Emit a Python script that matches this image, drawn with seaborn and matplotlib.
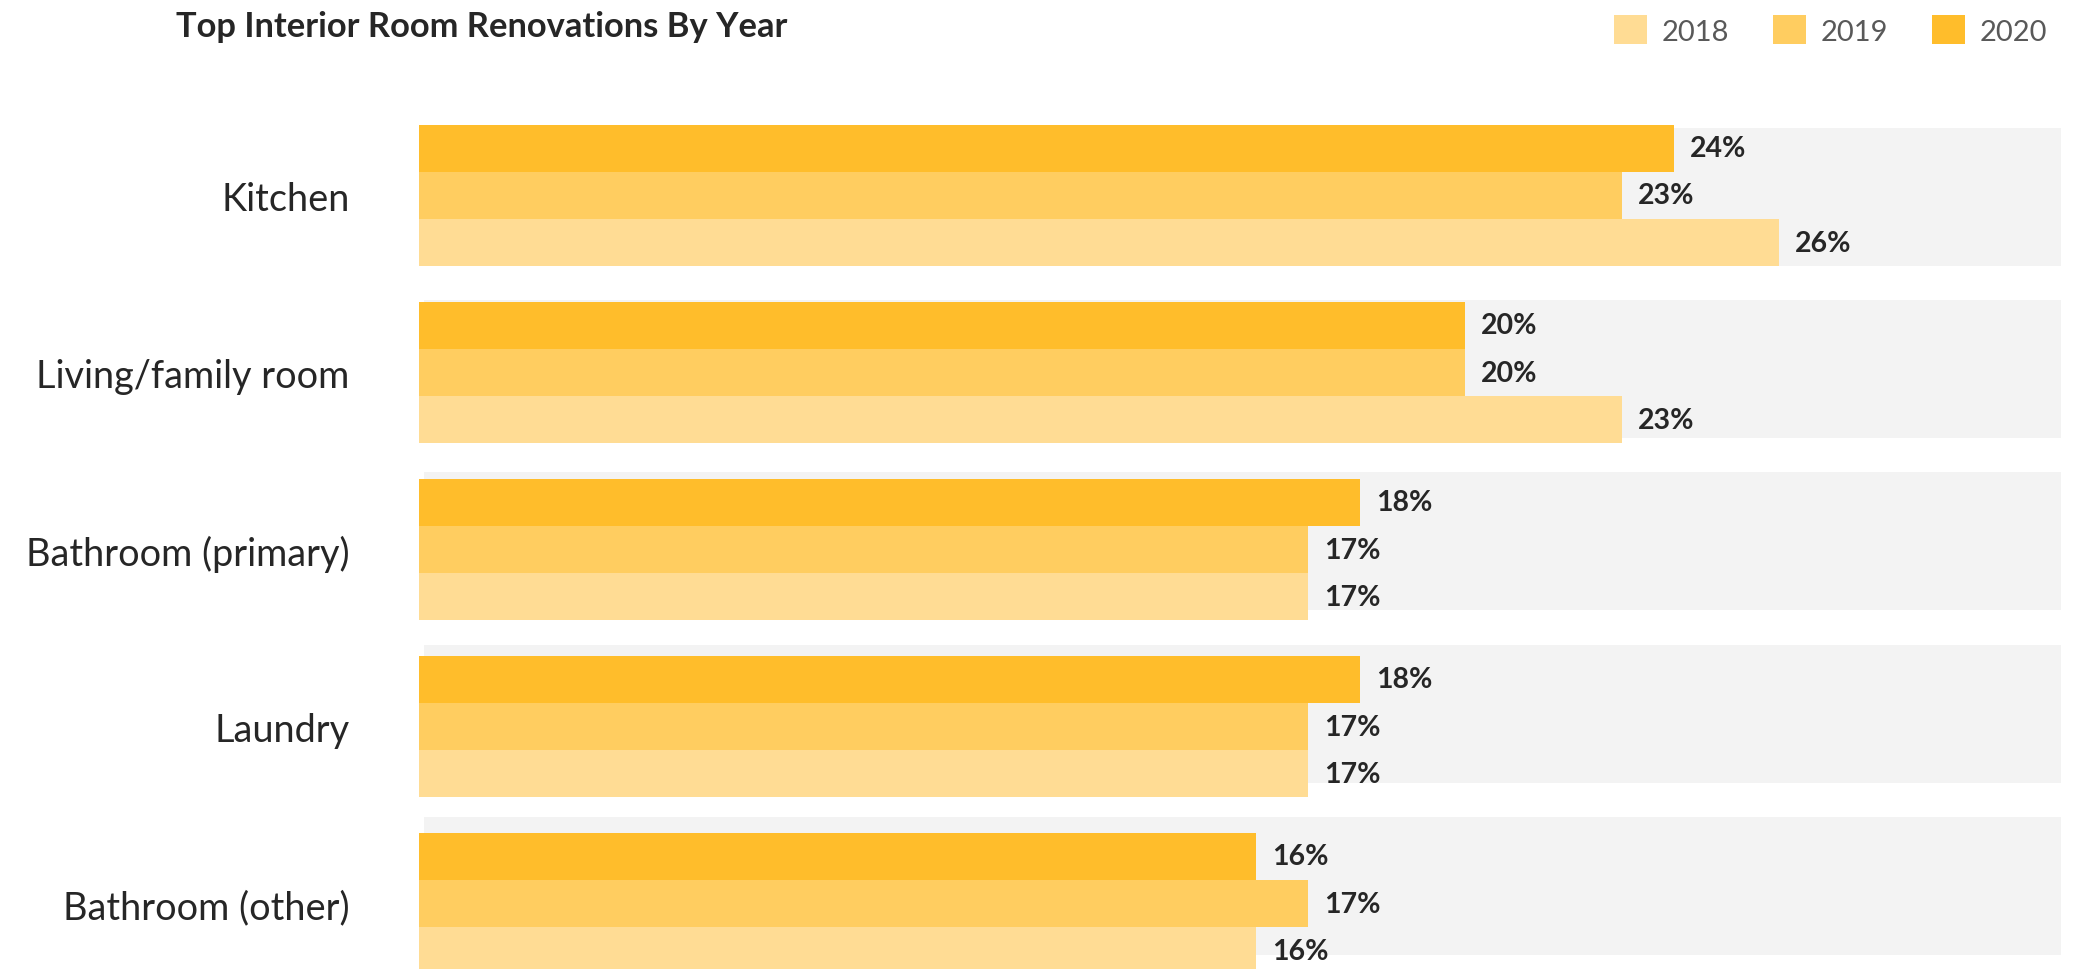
import matplotlib
matplotlib.use("Agg")
import matplotlib.pyplot as plt
from matplotlib.patches import Patch
import pandas as pd
import seaborn as sns

# Share of renovating homeowners who redid each room, by year (%)
rooms = ["Kitchen", "Living/family room", "Bathroom (primary)", "Laundry", "Bathroom (other)"]
years = ["2018", "2019", "2020"]
pct_2018 = [26, 23, 17, 17, 16]
pct_2019 = [23, 20, 17, 17, 17]
pct_2020 = [24, 20, 18, 18, 16]

title = "Top Interior Room Renovations By Year"
colors = {"2018": "#FFDC94", "2019": "#FFCD60", "2020": "#FFBD2B"}
band_color = "#F3F3F3"
text_dark = "#262626"
legend_grey = "#595959"

df = pd.DataFrame({
    "room": rooms * 3,
    "year": ["2018"] * 5 + ["2019"] * 5 + ["2020"] * 5,
    "pct": pct_2018 + pct_2019 + pct_2020,
})

sns.set_theme(style="white")
plt.rcParams["font.family"] = ["Lato", "DejaVu Sans"]

W, H = 2080, 970
fig = plt.figure(figsize=(W / 100, H / 100), dpi=100)
fig.patch.set_facecolor("white")

# plot area: from the bar baseline to the right edge, running off the bottom
ax = fig.add_axes([419 / W, 0.0, 1 - 419 / W, 870 / H])
x_max = 31.76

# light grey backing bands on their own y scale
ax_bg = ax.twinx()
ax_bg.barh(range(len(rooms)), width=31.3, left=0.1, height=0.8,
           color=band_color, linewidth=0)
ax_bg.set_ylim(4.482, -0.567)
ax_bg.set_axis_off()

sns.barplot(data=df, x="pct", y="room", hue="year", order=rooms,
            hue_order=["2020", "2019", "2018"], palette=colors,
            width=0.8, saturation=1, linewidth=0, legend=False, ax=ax)

ax.set_zorder(ax_bg.get_zorder() + 1)
ax.patch.set_visible(False)
ax.set_xlim(0, x_max)
ax.set_ylim(4.369, -0.545)
ax.set_xlabel("")
ax.set_ylabel("")
ax.set_xticks([])
for s in ax.spines.values():
    s.set_visible(False)
ax.tick_params(axis="y", length=0, pad=50, labelsize=27.3, labelcolor=text_dark)

for cont in ax.containers:
    ax.bar_label(cont, labels=[f"{b.get_width():.0f}%" for b in cont],
                 padding=11.5, fontsize=20.5, fontweight="bold", color=text_dark)

fig.text(176 / W, 1 - 37 / H, title, fontsize=24.8, fontweight="bold",
         color=text_dark, ha="left", va="baseline")

handles = [Patch(facecolor=colors[y], edgecolor="none", label=y) for y in years]
fig.legend(handles=handles, loc="center right", bbox_to_anchor=(2047 / W, 1 - 31 / H),
           ncol=3, frameon=False, fontsize=21, labelcolor=legend_grey,
           handlelength=1.13, handleheight=1.13, handletextpad=0.5,
           columnspacing=1.5, borderpad=0, borderaxespad=0)

fig.savefig("out.png", dpi=100, facecolor="white")
